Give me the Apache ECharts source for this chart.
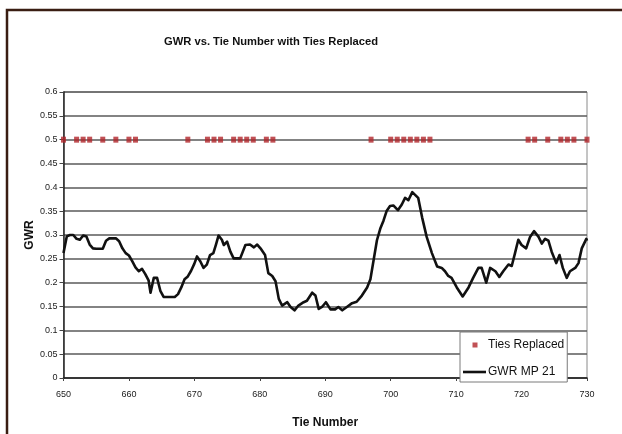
<!DOCTYPE html>
<html>
<head>
<meta charset="utf-8">
<script src="https://cdn.jsdelivr.net/npm/echarts@6/dist/echarts.min.js"></script>
<style>
html,body{margin:0;padding:0;background:#fff;}
#chart{width:622px;height:434px;}
</style>
</head>
<body>
<div id="chart"></div>
<script>
// ---- Data ----
const chartTitle = 'GWR vs. Tie Number with Ties Replaced';
const xAxisName = 'Tie Number';
const yAxisName = 'GWR';

const tieNumbers = [
  650, 650.5, 651, 651.5, 652, 652.5, 653, 653.5, 654, 654.5,
  655, 655.5, 656, 656.5, 657, 657.5, 658, 658.5, 659, 659.5,
  660, 660.5, 661, 661.5, 662, 662.5, 663, 663.3, 663.8, 664.3,
  664.8, 665.3, 666, 667, 667.5, 668, 668.5, 669, 669.5, 670,
  670.4, 670.9, 671.4, 671.9, 672.4, 672.9, 673.3, 673.7, 674.2, 674.5,
  675, 675.5, 676, 677, 677.8, 678.5, 679.1, 679.6, 680.1, 680.8,
  681.3, 681.9, 682.4, 682.9, 683.4, 684.2, 684.7, 685.3, 685.9, 686.7,
  687.2, 688, 688.5, 689, 689.5, 690.1, 690.8, 691.5, 692, 692.6,
  693.3, 694.1, 694.8, 695.6, 696.4, 696.9, 697.4, 697.9, 698.4, 698.9,
  699.4, 699.9, 700.4, 701.1, 701.7, 702.2, 702.7, 703.3, 703.6, 704.2,
  704.8, 705.5, 706.3, 707.1, 707.8, 708.3, 708.8, 709.3, 710.1, 711,
  711.9, 712.6, 713.4, 713.9, 714.6, 715.2, 716, 716.6, 717.2, 718,
  718.5, 719, 719.5, 720, 720.7, 721.3, 721.9, 722.6, 723.1, 723.6,
  724.1, 724.6, 725.3, 725.8, 726.3, 726.9, 727.4, 728.2, 728.7, 729.2,
  729.9, 730
];
const gwrValues = [
  0.262, 0.297, 0.300, 0.300, 0.292, 0.290, 0.299, 0.297, 0.280, 0.272,
  0.271, 0.271, 0.271, 0.288, 0.293, 0.293, 0.293, 0.287, 0.272, 0.262,
  0.257, 0.245, 0.232, 0.224, 0.229, 0.218, 0.205, 0.179, 0.210, 0.210,
  0.183, 0.170, 0.170, 0.170, 0.176, 0.190, 0.207, 0.213, 0.225, 0.240,
  0.255, 0.245, 0.231, 0.238, 0.258, 0.262, 0.280, 0.299, 0.290, 0.279,
  0.286, 0.265, 0.251, 0.251, 0.279, 0.280, 0.274, 0.280, 0.272, 0.258,
  0.220, 0.214, 0.203, 0.166, 0.152, 0.159, 0.149, 0.142, 0.152, 0.159,
  0.162, 0.179, 0.173, 0.145, 0.149, 0.159, 0.144, 0.144, 0.149, 0.142,
  0.149, 0.157, 0.160, 0.173, 0.190, 0.207, 0.248, 0.289, 0.313, 0.330,
  0.351, 0.361, 0.362, 0.352, 0.364, 0.378, 0.373, 0.390, 0.392, 0.378,
  0.337, 0.296, 0.262, 0.234, 0.231, 0.224, 0.214, 0.210, 0.190, 0.171,
  0.190, 0.210, 0.231, 0.231, 0.200, 0.231, 0.224, 0.212, 0.224, 0.238,
  0.235, 0.262, 0.290, 0.279, 0.272, 0.296, 0.308, 0.296, 0.282, 0.292,
  0.288, 0.265, 0.241, 0.258, 0.231, 0.210, 0.224, 0.231, 0.241, 0.272,
  0.292, 0.288
];
const replacedTies = [
  650, 652, 653, 654, 656, 658, 660, 661, 669, 672, 673, 674,
  676, 677, 678, 679, 681, 682, 697, 700, 701, 702, 703, 704,
  705, 706, 721, 722, 724, 726, 727, 728, 730
];
const replacedLevel = 0.5;
const seriesNames = ['Ties Replaced', 'GWR MP 21'];

// ---- Chart ----
const FONT = "'Liberation Sans', Arial, sans-serif";
const chart = echarts.init(document.getElementById('chart'), null, {renderer: 'canvas'});

const option = {
  backgroundColor: '#ffffff',
  animation: false,
  title: {
    text: chartTitle,
    left: 164,
    top: 36,
    padding: 0,
    textStyle: {fontFamily: FONT, fontSize: 11.2, fontWeight: 'bold', color: '#111'}
  },
  graphic: [{
    type: 'rect',
    silent: true,
    z: -10,
    shape: {x: 7, y: 10, width: 720, height: 520},
    style: {fill: 'none', stroke: '#3a1d12', lineWidth: 2.5}
  }],
  grid: {
    left: 63.5, right: 35, top: 92, bottom: 50,
    show: true, backgroundColor: '#fff', borderColor: '#8a8a8a', borderWidth: 1
  },
  legend: {
    orient: 'vertical',
    left: 460, top: 332,
    padding: [6, 3, 3, 3],
    itemGap: 13,
    itemWidth: 23, itemHeight: 14,
    backgroundColor: '#fff',
    borderColor: '#7a7a7a', borderWidth: 1,
    textStyle: {fontFamily: FONT, fontSize: 12, color: '#111', padding: [0, 0, 0, -3]},
    data: [
      {name: seriesNames[0], icon: 'path://M0,0M23,14M9.5,4.5h5v5h-5z', itemStyle: {color: '#b1252a'}},
      {name: seriesNames[1], icon: 'path://M0,0M23,14M0,5.7h23v2.6h-23z', itemStyle: {color: '#111'}}
    ]
  },
  xAxis: {
    type: 'value',
    min: 650, max: 730, interval: 10,
    name: xAxisName,
    nameLocation: 'middle',
    nameGap: 39,
    nameMoveOverlap: false,
    nameTextStyle: {fontFamily: FONT, fontSize: 12, fontWeight: 'bold', color: '#111'},
    axisLine: {show: true, onZero: false, lineStyle: {color: '#222', width: 1.5}},
    axisTick: {show: true, length: 3, lineStyle: {color: '#444', width: 1}},
    axisLabel: {fontFamily: FONT, fontSize: 9, color: '#1a1a1a', margin: 12},
    splitLine: {show: false}
  },
  yAxis: {
    type: 'value',
    min: 0, max: 0.6, interval: 0.05,
    name: yAxisName,
    nameLocation: 'middle',
    nameGap: 28,
    nameRotate: 90,
    nameMoveOverlap: false,
    nameTextStyle: {fontFamily: FONT, fontSize: 12, fontWeight: 'bold', color: '#111'},
    axisLine: {show: true, lineStyle: {color: '#222', width: 1.5}},
    axisTick: {show: true, length: 4, lineStyle: {color: '#444', width: 1}},
    axisLabel: {
      fontFamily: FONT, fontSize: 9, color: '#1a1a1a', margin: 6,
      formatter: v => String(Math.round(v * 100) / 100)
    },
    splitLine: {show: true, lineStyle: {color: '#5a5a5a', width: 1.6}}
  },
  series: [
    {
      name: seriesNames[0],
      type: 'scatter',
      data: replacedTies.map(t => [t, replacedLevel]),
      symbol: 'rect',
      symbolSize: [5, 6],
      clip: false,
      z: 3,
      itemStyle: {color: '#b1252a'}
    },
    {
      name: seriesNames[1],
      type: 'line',
      data: tieNumbers.map((t, i) => [t, gwrValues[i]]),
      symbol: 'none',
      showSymbol: false,
      z: 2,
      itemStyle: {color: '#111'},
      lineStyle: {color: '#111', width: 2.6, join: 'round'}
    }
  ]
};
chart.setOption(option);
</script>
</body>
</html>
